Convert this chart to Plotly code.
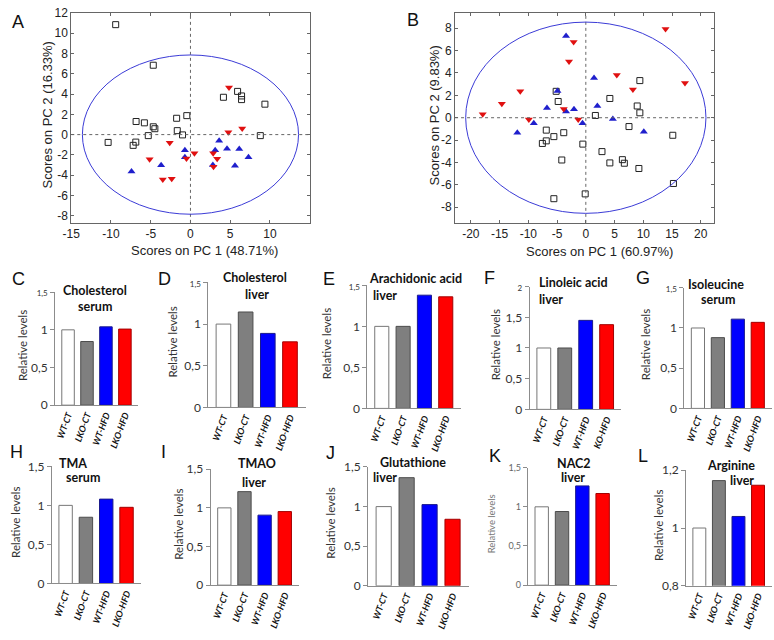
import plotly.graph_objects as go

W, H = 774, 640

# ---------------- data ----------------
# Panel A (PCA scores)
a_sq_x = [-9.41, -4.68, 4.15, 5.93, 6.43, 6.43, 9.37, 8.79, -0.46, -1.74, -1.66, -1.0,
          -6.84, -5.8, -4.68, -4.48, -5.31, -6.88, -7.21, -10.36]
a_sq_y = [10.84, 6.84, 3.68, 4.26, 3.81, 3.45, 3.0, -0.1, 1.87, 1.61, 0.39, -0.03,
          1.29, 1.16, 0.77, 0.58, -0.1, -0.74, -1.06, -0.77]
a_up_x = [-7.42, -3.69, -0.70, -0.70, 3.61, 3.11, 4.60, 6.14, 7.30, 5.60, 2.82]
a_up_y = [-3.65, -3.03, -1.55, -2.23, -0.61, -1.55, -1.39, -1.42, -2.23, -3.06, -3.0]
a_dn_x = [4.85, 4.77, 6.51, -2.61, -5.14, -3.48, -2.36, -0.50, 0.50, 2.86, 3.36, 2.90]
a_dn_y = [4.65, 0.23, 0.61, -0.81, -2.42, -4.42, -4.35, -2.35, -1.84, -1.84, -2.39, -3.16]
a_ellipse = (13.6, 7.85)

# Panel B (PCA scores)
b_sq_x = [-5.16, -4.81, 4.18, 9.40, 8.94, 9.40, 1.66, 7.51, 15.13, 15.24, 9.23, 6.36,
          6.70, 4.18, 2.81, -0.52, -0.11, -5.56, -4.18, -3.84, -5.56, -6.88, -6.88, -7.56]
b_sq_y = [2.36, 1.45, 1.72, 3.32, 1.05, 0.44, 0.2, -0.79, -1.57, -5.88, -4.54, -3.75,
          -4.07, -4.04, -3.03, -2.36, -6.81, -7.24, -3.78, -1.34, -1.69, -1.11, -2.07, -2.30]
b_up_x = [-3.44, 1.43, 2.01, -4.93, -6.76, -3.44, -2.06, -0.57, 4.70, 10.09, -9.05, -11.92]
b_up_y = [7.30, 3.55, 1.05, 2.39, 0.87, 0.55, 0.76, -0.49, -0.12, -1.25, -0.49, -1.34]
b_dn_x = [13.87, 17.25, 5.39, 8.19, -2.12, -2.92, -11.40, -14.61, -17.94, -9.91, -3.84, -1.32]
b_dn_y = [7.94, 3.11, 3.81, 2.53, 6.78, 5.03, 2.36, 1.25, 0.32, -0.15, 0.79, -0.15]
b_ellipse = (20.9, 8.55)

a_xticks = [-15, -10, -5, 0, 5, 10]
a_yticks = [-8, -6, -4, -2, 0, 2, 4, 6, 8, 10, 12]
b_xticks = [-20, -15, -10, -5, 0, 5, 10, 15, 20]
b_yticks = [-8, -6, -4, -2, 0, 2, 4, 6, 8]

# Bar panels
groups = ["WT-CT", "LKO-CT", "WT-HFD", "LKO-HFD"]
groups_f = ["WT-CT", "LKO-CT", "WT-HFD", "KO-HFD"]
chol_serum = [1.0, 0.845, 1.04, 1.01]
chol_liver = [1.0, 1.145, 0.888, 0.787]
arach_liver = [1.0, 1.0, 1.38, 1.36]
linol_liver = [1.0, 1.0, 1.45, 1.38]
isoleu_serum = [1.0, 0.88, 1.11, 1.07]
tma_serum = [1.0, 0.848, 1.08, 0.975]
tmao_liver = [1.0, 1.21, 0.906, 0.952]
gluta_liver = [1.0, 1.365, 1.025, 0.84]
nac2_liver = [1.0, 0.94, 1.267, 1.17]
argin_liver = [1.0, 1.164, 1.04, 1.148]

ticks_15 = [0, 0.5, 1, 1.5]
ticks_15_text = ["0", "0,5", "1", "1,5"]
ticks_2 = [0, 0.5, 1, 1.5, 2]
ticks_2_text = ["0", "0,5", "1", "1,5", "2"]
ticks_12 = [0.8, 1.0, 1.2]
ticks_12_text = ["0,8", "1", "1,2"]

bar_fill = ["#ffffff", "#7f7f7f", "#0000ff", "#ff0000"]
bar_edge = ["#777777", "#4d4d4d", "#1a1a8c", "#a30000"]

SANS = "Liberation Sans, Arial, sans-serif"
CAL = "Lato, Carlito, Calibri, sans-serif"


def fx(p):
    return p / W


def fy(p):
    return 1 - p / H


fig = go.Figure()
layout = dict(width=W, height=H, margin=dict(l=0, r=0, t=0, b=0),
              paper_bgcolor="white", plot_bgcolor="white", showlegend=False)
annotations = []
shapes = []


def ann(text, x, y, size=12, font=SANS, color="#111", angle=0, xanchor="center"):
    annotations.append(dict(text=text, x=fx(x), y=fy(y), xref="paper", yref="paper",
                            showarrow=False, textangle=angle, xanchor=xanchor,
                            yanchor="middle",
                            font=dict(size=size, family=font, color=color)))


# ---------------- PCA panels ----------------
def pca_panel(n, dom, xr, yr, xt, yt, sqx, sqy, upx, upy, dnx, dny, ell):
    xa = "x" if n == 1 else f"x{n}"
    ya = "y" if n == 1 else f"y{n}"
    fig.add_trace(go.Scatter(x=sqx, y=sqy, mode="markers", xaxis=xa, yaxis=ya,
                             marker=dict(symbol="square-open", size=6,
                                         color="#222", line=dict(width=1))))
    fig.add_trace(go.Scatter(x=upx, y=upy, mode="markers", xaxis=xa, yaxis=ya,
                             marker=dict(symbol="triangle-up", size=7, color="#1f1fcc")))
    fig.add_trace(go.Scatter(x=dnx, y=dny, mode="markers", xaxis=xa, yaxis=ya,
                             marker=dict(symbol="triangle-down", size=7, color="#e01010")))
    common = dict(showline=True, mirror="ticks", linecolor="#666", linewidth=1,
                  ticks="inside", ticklen=3, tickcolor="#666", showgrid=False,
                  zeroline=False, tickfont=dict(size=12, family=SANS, color="#222"))
    layout["xaxis" if n == 1 else f"xaxis{n}"] = dict(
        domain=[fx(dom[0]), fx(dom[1])], range=list(xr), anchor=ya,
        tickvals=xt, ticktext=[str(v) for v in xt], **common)
    layout["yaxis" if n == 1 else f"yaxis{n}"] = dict(
        domain=[fy(dom[3]), fy(dom[2])], range=list(yr), anchor=xa,
        tickvals=yt, ticktext=[str(v) for v in yt], **common)
    shapes.append(dict(type="line", xref=xa, yref=f"{ya} domain", x0=0, x1=0, y0=0, y1=1,
                       line=dict(color="#666", width=1, dash="dot")))
    shapes.append(dict(type="line", xref=f"{xa} domain", yref=ya, x0=0, x1=1, y0=0, y1=0,
                       line=dict(color="#666", width=1, dash="dot")))
    shapes.append(dict(type="circle", xref=xa, yref=ya, x0=-ell[0], x1=ell[0],
                       y0=-ell[1], y1=ell[1], line=dict(color="#3b3bd6", width=1)))


pca_panel(1, (63, 305, 5, 220), (-15, 15.1), (-8.7, 12), a_xticks, a_yticks,
          a_sq_x, a_sq_y, a_up_x, a_up_y, a_dn_x, a_dn_y, a_ellipse)
pca_panel(2, (451.3, 713.3, 4.7, 220), (-22.75, 22.3), (-9.4, 9.4), b_xticks, b_yticks,
          b_sq_x, b_sq_y, b_up_x, b_up_y, b_dn_x, b_dn_y, b_ellipse)

ann("Scores on PC 1 (48.71%)", 198, 248.5, size=13, color="#222")
ann("Scores on PC 2 (16.33%)", 38.5, 110, size=13, color="#222", angle=-90)
ann("Scores on PC 1 (60.97%)", 597, 249.5, size=13, color="#222")
ann("Scores on PC 2 (9.83%)", 430, 110, size=13, color="#222", angle=-90)
ann("A", 9.5, 14.5, size=18)
ann("B", 409, 12.5, size=18)

# ---------------- bar panels ----------------
bar_panels = [
    ("C", chol_serum, groups, (46.7, 130.7, 291, 406.7), (0, 1.5), ticks_15, ticks_15_text, True,
     [("Cholesterol", 87.5, 289), ("serum", 87.5, 306)], 13.5, (9.5, 277)),
    ("D", chol_liver, groups, (201.7, 300, 281, 409), (0, 1.5), ticks_15, ticks_15_text, True,
     [("Cholesterol", 249, 276), ("liver", 251, 293.5)], 165.5, (157, 277)),
    ("E", arach_liver, groups, (362.5, 457, 284, 410), (0, 1.5), ticks_15, ticks_15_text, True,
     [("Arachidonic acid", 411, 277.5), ("liver", 380, 294)], 322, (324, 277)),
    ("F", linol_liver, groups_f, (526.7, 619.5, 285.3, 411), (0, 2), ticks_2, ticks_2_text, True,
     [("Linoleic acid", 571.5, 281), ("liver", 548, 298)], 492, (486.5, 276)),
    ("G", isoleu_serum, groups, (683.3, 771.7, 286.5, 410), (0, 1.5), ticks_15, ticks_15_text, True,
     [("Isoleucine", 715, 283.5), ("serum", 717.5, 298)], 643.5, (641.5, 276)),
    ("H", tma_serum, groups, (43.3, 133.3, 469.3, 589.3), (0, 1.5), ticks_15, ticks_15_text, False,
     [("TMA", 65, 466), ("serum", 75, 481)], 7, (7.5, 455)),
    ("I", tmao_liver, groups, (204, 293.3, 472.3, 591), (0, 1.5), ticks_15, ticks_15_text, False,
     [("TMAO", 251, 466.5), ("liver", 247.5, 485.5)], 171.5, (156.5, 455)),
    ("J", gluta_liver, groups, (363.3, 465, 470, 591.7), (0, 1.5), ticks_15, ticks_15_text, False,
     [("Glutathione", 409, 465), ("liver", 380, 480.5)], 325, (325, 456)),
    ("K", nac2_liver, groups, (525, 615, 470.7, 591), (0, 1.5), ticks_15, ticks_15_text, True,
     [("NAC2", 571.5, 466), ("liver", 571, 481)], 488.5, (492, 459)),
    ("L", argin_liver, groups, (685, 771.7, 473.3, 591.7), (0.8, 1.2), ticks_12, ticks_12_text, False,
     [("Arginine", 730, 468.5), ("liver", 741.5, 483.5)], 656.5, (641.5, 459)),
]

for i, (letter, vals, labels, dom, yr, tv, tt, small_top, titles, ylx, lpos) in enumerate(bar_panels):
    n = i + 3
    xa, ya = f"x{n}", f"y{n}"
    fig.add_trace(go.Bar(x=labels, y=vals, xaxis=xa, yaxis=ya, width=0.66,
                         marker=dict(color=bar_fill, line=dict(color=bar_edge, width=1))))
    is_k = letter == "K"
    tsize = 9 if is_k else 12
    tcolor = "#666" if is_k else "#333"
    ttext = list(tt)
    if small_top and not is_k:
        ttext[-1] = f'<span style="font-size:8px">{ttext[-1]}</span>'
    layout[f"xaxis{n}"] = dict(
        domain=[fx(dom[0]), fx(dom[1])], range=[-0.68, 3.7], anchor=ya, type="category",
        showline=True, linecolor="#8c8c8c", linewidth=1, showgrid=False, zeroline=False,
        ticks="", tickangle=-70, tickvals=labels,
        ticktext=[f"<b><i>{g}</i></b>" for g in labels],
        tickfont=dict(size=9, family=CAL, color="#111"))
    layout[f"yaxis{n}"] = dict(
        domain=[fy(dom[3]), fy(dom[2])], range=list(yr), anchor=xa,
        showline=True, linecolor="#8c8c8c", linewidth=1, showgrid=False, zeroline=False,
        ticks="outside", ticklen=4, tickcolor="#8c8c8c", tickvals=tv, ticktext=ttext,
        tickfont=dict(size=tsize, family=CAL, color=tcolor))
    for (txt, tx, tyy) in titles:
        ann(f"<b>{txt}</b>", tx, tyy, size=12.5, font=CAL, color="#111")
    ann("Relative levels", ylx, (dom[2] + dom[3]) / 2 - 3, size=9.5 if is_k else 11.5,
        font=CAL, color="#777" if is_k else "#333", angle=-90)
    ann(letter, lpos[0], lpos[1], size=18)

layout["annotations"] = annotations
layout["shapes"] = shapes
fig.update_layout(**layout)
fig.write_html("out.html", config={"displayModeBar": False},
               post_script="document.body.style.margin='0';")
